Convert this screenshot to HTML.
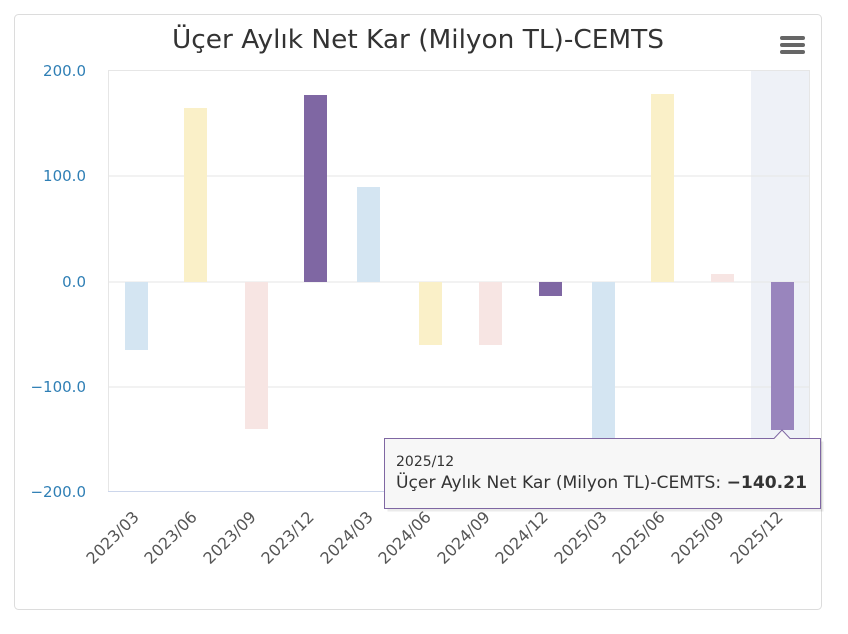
<!DOCTYPE html>
<html><head><meta charset="utf-8"><style>
body{margin:0;background:#fff;width:848px;height:629px;overflow:hidden}
svg{font-family:"DejaVu Sans","Liberation Sans",sans-serif}
</style></head><body>
<svg width="848" height="629" xmlns="http://www.w3.org/2000/svg">
<rect x="14.5" y="14.5" width="807" height="595" rx="4" fill="#fff" stroke="#dcdcdc"/>
<text x="418" y="48" text-anchor="middle" font-size="26" fill="#333" textLength="492" lengthAdjust="spacingAndGlyphs">Üçer Aylık Net Kar (Milyon TL)-CEMTS</text>
<g fill="#666"><rect x="780" y="36" width="25" height="4" rx="2"/><rect x="780" y="43" width="25" height="4" rx="2"/><rect x="780" y="50" width="25" height="4" rx="2"/></g>
<rect x="751" y="70" width="59" height="421" fill="#eef1f7"/>
<g stroke="#e6e6e6"><line x1="108" x2="810" y1="70.5" y2="70.5"/><line x1="108" x2="810" y1="176" y2="176"/><line x1="108" x2="810" y1="282" y2="282"/><line x1="108" x2="810" y1="387" y2="387"/></g>
<line x1="108" x2="810" y1="491.5" y2="491.5" stroke="#ccd6eb"/>
<line x1="108.5" x2="108.5" y1="70" y2="491" stroke="#e6e6e6"/>
<line x1="809.5" x2="809.5" y1="70" y2="491" stroke="#e6e6e6"/>
<g font-size="15" fill="#2f7fb5" text-anchor="end">
<text x="86" y="76">200.0</text><text x="86" y="181">100.0</text><text x="86" y="287">0.0</text><text x="86" y="392">−100.0</text><text x="86" y="497">−200.0</text></g>
<rect x="125" y="282" width="23" height="68" fill="#d4e5f2"/>
<rect x="184" y="108" width="23" height="174" fill="#faf0c8"/>
<rect x="245" y="282" width="23" height="147" fill="#f7e5e3"/>
<rect x="304" y="95" width="23" height="187" fill="#7f67a3"/>
<rect x="357" y="187" width="23" height="95" fill="#d4e5f2"/>
<rect x="419" y="282" width="23" height="63" fill="#faf0c8"/>
<rect x="479" y="282" width="23" height="63" fill="#f7e5e3"/>
<rect x="539" y="282" width="23" height="14" fill="#7f67a3"/>
<rect x="592" y="282" width="23" height="162" fill="#d4e5f2"/>
<rect x="651" y="94" width="23" height="188" fill="#faf0c8"/>
<rect x="711" y="274" width="23" height="8" fill="#f7e5e3"/>
<rect x="771" y="282" width="23" height="148" fill="#9985bd"/>
<g font-size="16" fill="#555" text-anchor="end">
<text transform="translate(140,518) rotate(-45)">2023/03</text>
<text transform="translate(198,518) rotate(-45)">2023/06</text>
<text transform="translate(257,518) rotate(-45)">2023/09</text>
<text transform="translate(315,518) rotate(-45)">2023/12</text>
<text transform="translate(374,518) rotate(-45)">2024/03</text>
<text transform="translate(432,518) rotate(-45)">2024/06</text>
<text transform="translate(491,518) rotate(-45)">2024/09</text>
<text transform="translate(549,518) rotate(-45)">2024/12</text>
<text transform="translate(608,518) rotate(-45)">2025/03</text>
<text transform="translate(666,518) rotate(-45)">2025/06</text>
<text transform="translate(725,518) rotate(-45)">2025/09</text>
<text transform="translate(784,518) rotate(-45)">2025/12</text>
</g>
<path d="M387.5,441.5 H774 L782,433 L790,441.5 H823.5 V511.5 H387.5 Z" fill="#000" fill-opacity="0.08"/>
<path d="M384.5,438.5 H774 L782,430 L790,438.5 H820.5 V508.5 H384.5 Z" fill="#f7f7f7" stroke="#7f67a3"/>
<text x="396" y="466" font-size="14" fill="#333">2025/12</text>
<text x="396" y="488" font-size="17" fill="#333" textLength="411" lengthAdjust="spacingAndGlyphs">Üçer Aylık Net Kar (Milyon TL)-CEMTS: <tspan font-weight="bold">−140.21</tspan></text>
</svg>
</body></html>
